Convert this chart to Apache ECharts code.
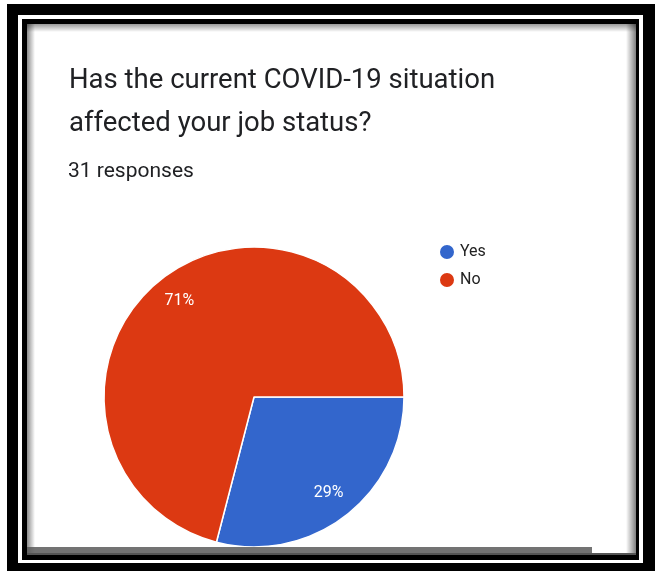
<!DOCTYPE html>
<html>
<head>
<meta charset="utf-8">
<script src="https://cdn.jsdelivr.net/npm/echarts@6/dist/echarts.min.js"></script>
<style>
  html, body { margin: 0; padding: 0; background: #fff; }
  #chart { width: 655px; height: 571px; }
</style>
</head>
<body>
<div id="chart"></div>
<script>
(function () {

    var question = 'Has the current COVID-19 situation\naffected your job status?';
    var responsesText = '31 responses';

    var answers = ['Yes', 'No'];
    var counts = [9, 22];
    var colors = ['#3366cc', '#dc3912'];

    var pieData = answers.map(function (name, i) {
        return { name: name, value: counts[i], itemStyle: { color: colors[i] } };
    });

    var font = 'Roboto, "Noto Sans", sans-serif';

    // frame: black border, thin white line, inner black line, white card with soft shadow
    var frame = [
        { type: 'rect', z: -10, silent: true, shape: { x: 7, y: 4, width: 648, height: 567 }, style: { fill: '#000' } },
        { type: 'rect', z: -9, silent: true, shape: { x: 18, y: 15, width: 625, height: 548 }, style: { fill: '#fff' } },
        { type: 'rect', z: -8, silent: true, shape: { x: 22, y: 19, width: 617, height: 541 }, style: { fill: '#000' } },
        { type: 'rect', z: -7, silent: true, shape: { x: 27, y: 24, width: 609, height: 531 }, style: { fill: '#fff' } },
        {
            type: 'rect', z: -6, silent: true, shape: { x: 27, y: 24, width: 8, height: 531 },
            style: { fill: new echarts.graphic.LinearGradient(0, 0, 1, 0, [{ offset: 0, color: 'rgba(0,0,0,0.45)' }, { offset: 1, color: 'rgba(0,0,0,0)' }]) }
        },
        {
            type: 'rect', z: -6, silent: true, shape: { x: 27, y: 24, width: 609, height: 8 },
            style: { fill: new echarts.graphic.LinearGradient(0, 0, 0, 1, [{ offset: 0, color: 'rgba(0,0,0,0.4)' }, { offset: 1, color: 'rgba(0,0,0,0)' }]) }
        },
        {
            type: 'rect', z: -6, silent: true, shape: { x: 626, y: 24, width: 10, height: 531 },
            style: { fill: new echarts.graphic.LinearGradient(0, 0, 1, 0, [{ offset: 0, color: 'rgba(0,0,0,0)' }, { offset: 1, color: 'rgba(0,0,0,0.5)' }]) }
        },
        // grey scroll bar at the bottom, drawn over the pie
        { type: 'rect', z: 100, silent: true, shape: { x: 27, y: 547, width: 565, height: 6 }, style: { fill: 'rgba(90,90,90,0.85)' } },
        { type: 'rect', z: 100, silent: true, shape: { x: 27, y: 553, width: 609, height: 2 }, style: { fill: '#555' } }
    ];

    var option = {
        animation: false,
        backgroundColor: '#fff',
        graphic: frame,
        title: [{
            text: question,
            left: 64,
            top: 55,
            textStyle: { fontFamily: font, fontSize: 27.5, fontWeight: 'normal', color: '#202124', lineHeight: 43 }
        }, {
            text: responsesText,
            left: 63,
            top: 156,
            textStyle: { fontFamily: font, fontSize: 21, fontWeight: 'normal', color: '#202124' }
        }],
        legend: {
            orient: 'vertical',
            left: 433,
            top: 238,
            icon: 'circle',
            itemWidth: 16,
            itemHeight: 16,
            itemGap: 10,
            data: answers,
            textStyle: { fontFamily: font, fontSize: 16, color: '#222', padding: [0, 0, 0, 0] }
        },
        series: [{
            type: 'pie',
            center: [254, 397],
            radius: 150,
            startAngle: 0,
            clockwise: true,
            label: { show: false },
            labelLine: { show: false },
            itemStyle: { borderColor: '#fff', borderWidth: 1.5 },
            emphasis: { scale: false },
            data: pieData
        }, {
            // label ring only: labels sit at ~0.8 of the radius like the original
            type: 'pie',
            center: [254, 397],
            radius: [88, 150],
            startAngle: 0,
            clockwise: true,
            silent: true,
            legendHoverLink: false,
            itemStyle: { color: 'rgba(0,0,0,0)' },
            label: {
                show: true,
                position: 'inside',
                fontFamily: font,
                fontSize: 16,
                color: '#fff',
                formatter: function (p) {
                    return Math.round(p.percent) + '%';
                }
            },
            labelLine: { show: false },
            data: answers.map(function (name, i) {
                return { name: name, value: counts[i] };
            })
        }]
    };

    var chart = echarts.init(document.getElementById('chart'));
    chart.setOption(option);

})();
</script>
</body>
</html>
